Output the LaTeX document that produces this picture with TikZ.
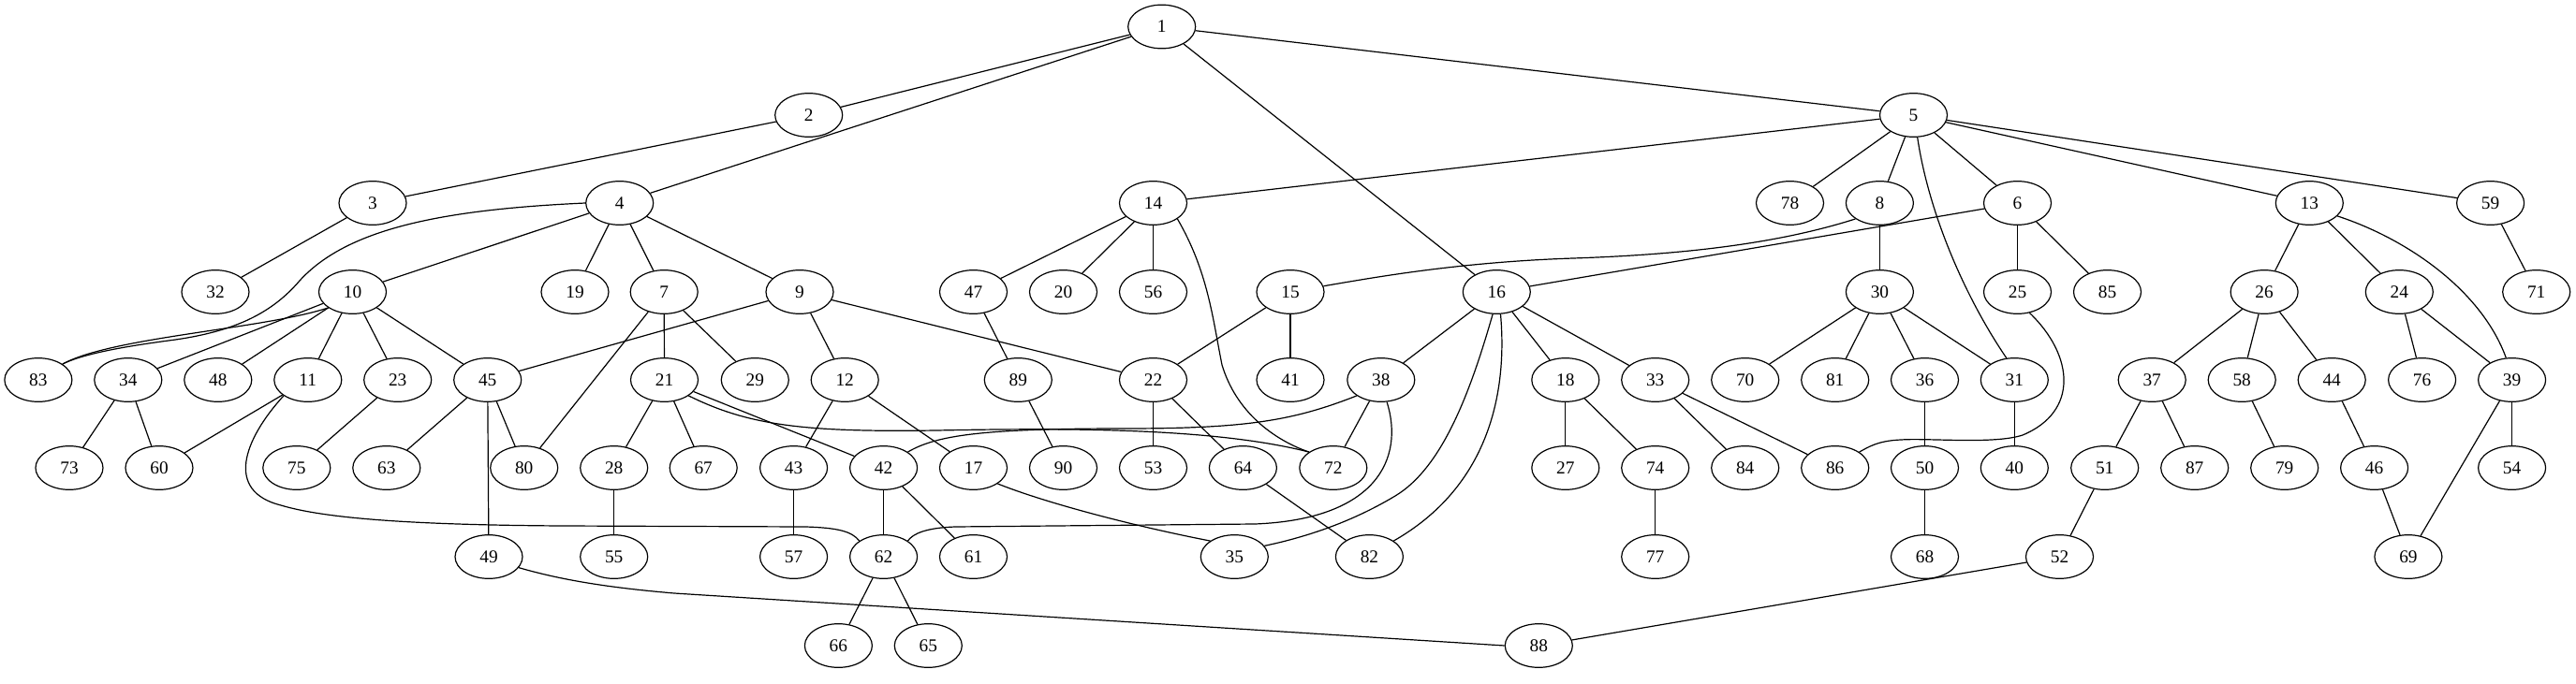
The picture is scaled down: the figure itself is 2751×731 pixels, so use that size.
\documentclass[tikz,border=0pt]{standalone}
\usepackage{fontspec}
\setmainfont{Liberation Serif}
\usetikzlibrary{shapes.geometric}
\tikzset{
  vx/.style={draw, ellipse, line width=0.9pt, minimum width=54pt, minimum height=35pt, inner sep=0pt, font=\fontsize{14.5}{16}\selectfont},
  ed/.style={line width=0.9pt}
}
\begin{document}
\begin{tikzpicture}[x=0.75pt, y=-0.75pt]
\useasboundingbox (0,0) rectangle (2751,731);
\def\ra{28.5}\def\rb{123}\def\rc{217}\def\rd{312}\def\re{406}\def\rf{500}\def\rg{595}\def\rh{690}
% row 1
\node[vx] (n1) at (1240.7,\ra) {1};
% row 2
\node[vx] (n2) at (863.7,\rb) {2};
\node[vx] (n5) at (2043.5,\rb) {5};
% row 3
\node[vx] (n3) at (398,\rc) {3};
\node[vx] (n4) at (661.7,\rc) {4};
\node[vx] (n14) at (1231.5,\rc) {14};
\node[vx] (n78) at (1911.5,\rc) {78};
\node[vx] (n8) at (2007.4,\rc) {8};
\node[vx] (n6) at (2154.5,\rc) {6};
\node[vx] (n13) at (2466.3,\rc) {13};
\node[vx] (n59) at (2659.6,\rc) {59};
% row 4
\node[vx] (n32) at (230,\rd) {32};
\node[vx] (n10) at (376.5,\rd) {10};
\node[vx] (n19) at (614,\rd) {19};
\node[vx] (n7) at (709.2,\rd) {7};
\node[vx] (n9) at (854,\rd) {9};
\node[vx] (n47) at (1039.5,\rd) {47};
\node[vx] (n20) at (1135.5,\rd) {20};
\node[vx] (n56) at (1231.5,\rd) {56};
\node[vx] (n15) at (1378,\rd) {15};
\node[vx] (n16) at (1598.3,\rd) {16};
\node[vx] (n30) at (2007.4,\rd) {30};
\node[vx] (n25) at (2154.5,\rd) {25};
\node[vx] (n85) at (2250.5,\rd) {85};
\node[vx] (n26) at (2418.1,\rd) {26};
\node[vx] (n24) at (2562.3,\rd) {24};
\node[vx] (n71) at (2708.7,\rd) {71};
% row 5
\node[vx] (n83) at (40.9,\re) {83};
\node[vx] (n34) at (136.8,\re) {34};
\node[vx] (n48) at (232.8,\re) {48};
\node[vx] (n11) at (328.8,\re) {11};
\node[vx] (n23) at (424.7,\re) {23};
\node[vx] (n45) at (520.7,\re) {45};
\node[vx] (n21) at (709.5,\re) {21};
\node[vx] (n29) at (806.3,\re) {29};
\node[vx] (n12) at (902.2,\re) {12};
\node[vx] (n89) at (1087.3,\re) {89};
\node[vx] (n22) at (1231.5,\re) {22};
\node[vx] (n41) at (1378,\re) {41};
\node[vx] (n38) at (1474.8,\re) {38};
\node[vx] (n18) at (1671.8,\re) {18};
\node[vx] (n33) at (1767.7,\re) {33};
\node[vx] (n70) at (1863.7,\re) {70};
\node[vx] (n81) at (1959.7,\re) {81};
\node[vx] (n36) at (2055.5,\re) {36};
\node[vx] (n31) at (2151.3,\re) {31};
\node[vx] (n37) at (2298.2,\re) {37};
\node[vx] (n58) at (2394.2,\re) {58};
\node[vx] (n44) at (2490.2,\re) {44};
\node[vx] (n76) at (2586.6,\re) {76};
\node[vx] (n39) at (2682.6,\re) {39};
% row 6
\node[vx] (n73) at (74,\rf) {73};
\node[vx] (n60) at (170,\rf) {60};
\node[vx] (n75) at (316.8,\rf) {75};
\node[vx] (n63) at (412.8,\rf) {63};
\node[vx] (n80) at (559.7,\rf) {80};
\node[vx] (n28) at (655.7,\rf) {28};
\node[vx] (n67) at (751.2,\rf) {67};
\node[vx] (n43) at (847.6,\rf) {43};
\node[vx] (n42) at (943.6,\rf) {42};
\node[vx] (n17) at (1039.5,\rf) {17};
\node[vx] (n90) at (1135.5,\rf) {90};
\node[vx] (n53) at (1231.5,\rf) {53};
\node[vx] (n64) at (1327.4,\rf) {64};
\node[vx] (n72) at (1423.8,\rf) {72};
\node[vx] (n27) at (1671.8,\rf) {27};
\node[vx] (n74) at (1767.7,\rf) {74};
\node[vx] (n84) at (1863.7,\rf) {84};
\node[vx] (n86) at (1959.7,\rf) {86};
\node[vx] (n50) at (2055.5,\rf) {50};
\node[vx] (n40) at (2151.3,\rf) {40};
\node[vx] (n51) at (2247.7,\rf) {51};
\node[vx] (n87) at (2343.7,\rf) {87};
\node[vx] (n79) at (2439.7,\rf) {79};
\node[vx] (n46) at (2535.6,\rf) {46};
\node[vx] (n54) at (2682.6,\rf) {54};
% row 7
\node[vx] (n49) at (522,\rg) {49};
\node[vx] (n55) at (655.7,\rg) {55};
\node[vx] (n57) at (847.6,\rg) {57};
\node[vx] (n62) at (943.6,\rg) {62};
\node[vx] (n61) at (1039.5,\rg) {61};
\node[vx] (n35) at (1318.3,\rg) {35};
\node[vx] (n82) at (1462.4,\rg) {82};
\node[vx] (n77) at (1767.7,\rg) {77};
\node[vx] (n68) at (2055.5,\rg) {68};
\node[vx] (n52) at (2199.5,\rg) {52};
\node[vx] (n69) at (2571.9,\rg) {69};
% row 8
\node[vx] (n66) at (895.4,\rh) {66};
\node[vx] (n65) at (991.3,\rh) {65};
\node[vx] (n88) at (1643.3,\rh) {88};

% straight edges
\foreach \a/\b in {1/2,1/4,1/16,1/5,2/3,3/32,4/10,4/19,4/7,4/9,
  10/34,10/48,10/11,10/23,10/45,34/73,34/60,11/60,23/75,
  45/63,45/80,45/49,7/21,7/80,7/29,9/45,9/12,9/22,21/28,21/67,21/42,
  28/55,12/43,12/17,43/57,42/62,42/61,62/66,62/65,64/82,
  14/47,14/20,14/56,5/14,5/78,5/8,5/6,5/13,5/59,8/30,6/16,6/25,6/85,
  15/22,15/41,22/53,22/64,47/89,89/90,16/38,16/18,16/33,38/72,
  18/27,18/74,74/77,33/84,33/86,30/70,30/81,30/36,30/31,36/50,50/68,
  31/40,13/26,13/24,59/71,26/37,26/58,26/44,24/76,24/39,37/51,37/87,
  51/52,52/88,58/79,44/46,46/69,39/54,39/69}
  \draw[ed] (n\a) -- (n\b);

% curved edges
\draw[ed] (n4.west) .. controls (470,224) and (370,245) .. (320,300)
  .. controls (290,335) and (250,355) .. (180,364)
  .. controls (120,372) and (85,380) .. (n83.north east);
\draw[ed] (n10.south west) .. controls (280,352) and (120,360) .. (n83.north east);
\draw[ed] (n11.south west) .. controls (260,470) and (240,525) .. (300,540)
  .. controls (350,555) and (450,561) .. (600,562) -- (860,563)
  .. controls (895,564) and (910,568) .. (n62.north west);
\draw[ed] (n21.south east) .. controls (800,455) and (860,462) .. (1000,460)
  .. controls (1150,457) and (1300,458) .. (n72.north west);
\draw[ed] (n38.south west) .. controls (1380,450) and (1330,458) .. (1200,458)
  .. controls (1050,458) and (1000,465) .. (n42.north east);
\draw[ed] (n14.south east) .. controls (1290,290) and (1295,340) .. (1305,390)
  .. controls (1320,440) and (1360,470) .. (n72.north west);
\draw[ed] (n38.-75) .. controls (1500,490) and (1470,555) .. (1340,560)
  -- (1020,563) .. controls (990,564) and (975,570) .. (n62.north east);
\draw[ed] (n16.-100) .. controls (1570,420) and (1540,500) .. (1490,530)
  .. controls (1440,560) and (1390,575) .. (n35.20);
\draw[ed] (n16.-80) .. controls (1610,420) and (1590,520) .. (n82.north east);
\draw[ed] (n25.-60) .. controls (2215,380) and (2220,440) .. (2160,465)
  .. controls (2130,475) and (2060,468) .. (2030,470)
  .. controls (2005,471) and (1995,478) .. (n86.north east);
\draw[ed] (n5.-80) .. controls (2060,230) and (2100,320) .. (n31.110);
\draw[ed] (n13.-25) .. controls (2570,255) and (2650,310) .. (n39.105);
\draw[ed] (n8.south west) .. controls (1900,260) and (1800,272) .. (1680,276)
  .. controls (1560,280) and (1470,296) .. (n15.10);
\draw[ed] (n49.-20) .. controls (600,620) and (650,628) .. (720,634) -- (n88.west);
\draw[ed] (n17.south east) .. controls (1110,535) and (1200,560) .. (n35.north west);
\end{tikzpicture}
\end{document}
